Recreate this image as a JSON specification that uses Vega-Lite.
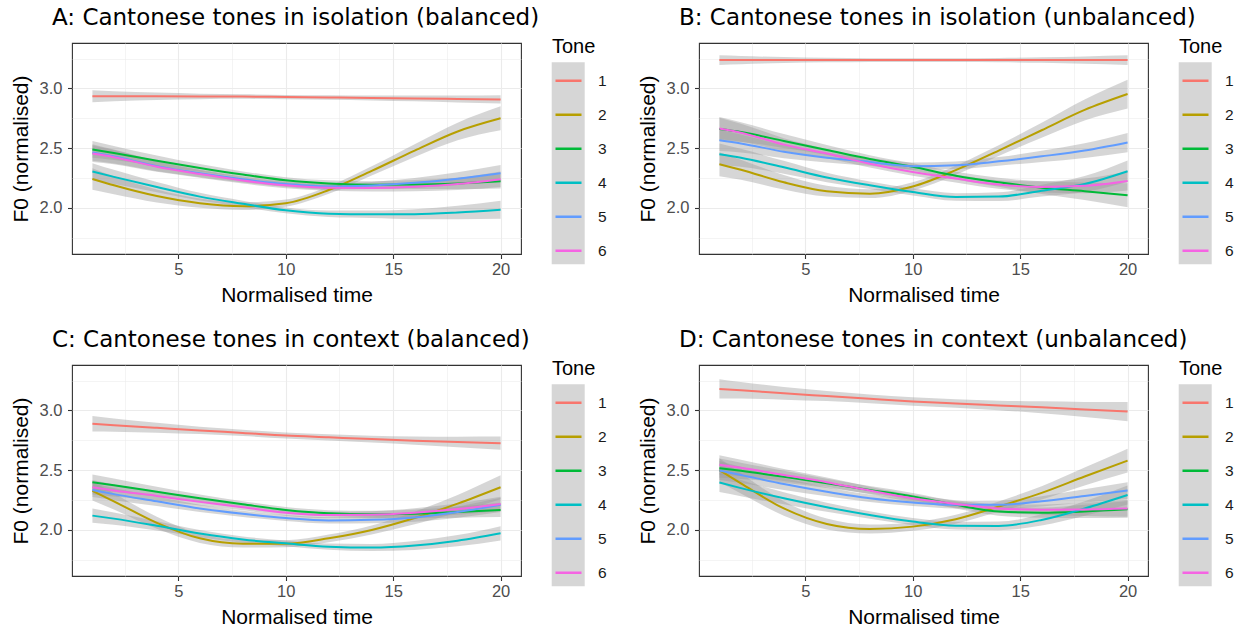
{
  "$schema": "https://vega.github.io/schema/vega-lite/v6.json",
  "background": "white",
  "padding": {"left": 9, "top": 6, "right": 5, "bottom": 5},
  "config": {
    "font": "Liberation Sans",
    "view": {"stroke": "#333333", "strokeWidth": 1.1},
    "axis": {"domain": false, "gridColor": "#ebebeb", "tickColor": "#333333", "tickSize": 4.5, "tickWidth": 1.1, "labelColor": "#4d4d4d", "labelFont": "Liberation Sans", "labelFontSize": 16.5, "titleFont": "Liberation Sans", "titleFontSize": 21, "titleFontWeight": "normal", "titleColor": "#000000", "labelPadding": 3, "labelOverlap": false},
    "axisX": {"labelExpr": "datum.value % 5 === 0 ? datum.label : ''", "gridWidth": {"condition": {"test": "datum.value % 5 !== 0", "value": 0.55}, "value": 1.1}, "tickOpacity": {"condition": {"test": "datum.value % 5 !== 0", "value": 0}, "value": 1}, "titlePadding": 6},
    "axisY": {"format": ".1f", "labelPadding": 5.5, "labelExpr": "datum.value % 0.5 === 0 ? datum.label : ''", "gridWidth": {"condition": {"test": "datum.value % 0.5 !== 0", "value": 0.55}, "value": 1.1}, "tickOpacity": {"condition": {"test": "datum.value % 0.5 !== 0", "value": 0}, "value": 1}, "titlePadding": 8},
    "title": {"font": "DejaVu Sans", "fontSize": 23, "fontWeight": "normal", "anchor": "start", "frame": "group", "color": "#000000", "dx": -20, "offset": 7},
    "legend": {"orient": "none", "legendX": 480, "legendY": -6, "clipHeight": 31.5, "titleFont": "Liberation Sans", "titleFontSize": 20, "titleFontWeight": "normal", "titleColor": "#000000", "titlePadding": 8, "labelFont": "Liberation Sans", "labelFontSize": 15.5, "labelColor": "#1a1a1a", "labelOffset": 13, "padding": 0, "symbolType": "M-0.867,0H0.867", "symbolSize": 900, "symbolStrokeWidth": 2.5, "symbolFillColor": "transparent", "symbolOffset": 0}
  },
  "datasets": {
    "A": [
      {"tone":1,"t":1,"y":2.935,"lo":2.885,"hi":2.985},{"tone":1,"t":2,"y":2.935,"lo":2.893,"hi":2.977},{"tone":1,"t":4,"y":2.934,"lo":2.903,"hi":2.965},{"tone":1,"t":6,"y":2.933,"lo":2.910,"hi":2.956},{"tone":1,"t":8,"y":2.932,"lo":2.913,"hi":2.951},{"tone":1,"t":10,"y":2.928,"lo":2.910,"hi":2.946},{"tone":1,"t":12,"y":2.924,"lo":2.905,"hi":2.943},{"tone":1,"t":14,"y":2.92,"lo":2.900,"hi":2.940},{"tone":1,"t":16,"y":2.916,"lo":2.892,"hi":2.940},{"tone":1,"t":18,"y":2.912,"lo":2.883,"hi":2.941},{"tone":1,"t":20,"y":2.908,"lo":2.873,"hi":2.943},
      {"tone":2,"t":1,"y":2.243,"lo":2.153,"hi":2.333},{"tone":2,"t":2,"y":2.19,"lo":2.115,"hi":2.265},{"tone":2,"t":4,"y":2.1,"lo":2.046,"hi":2.154},{"tone":2,"t":6,"y":2.04,"lo":2.001,"hi":2.079},{"tone":2,"t":8,"y":2.015,"lo":1.983,"hi":2.047},{"tone":2,"t":10,"y":2.04,"lo":2.010,"hi":2.070},{"tone":2,"t":12,"y":2.15,"lo":2.118,"hi":2.182},{"tone":2,"t":14,"y":2.31,"lo":2.272,"hi":2.348},{"tone":2,"t":16,"y":2.48,"lo":2.427,"hi":2.533},{"tone":2,"t":18,"y":2.64,"lo":2.567,"hi":2.713},{"tone":2,"t":20,"y":2.75,"lo":2.65,"hi":2.85},
      {"tone":3,"t":1,"y":2.49,"lo":2.42,"hi":2.56},{"tone":3,"t":2,"y":2.46,"lo":2.401,"hi":2.519},{"tone":3,"t":4,"y":2.395,"lo":2.352,"hi":2.438},{"tone":3,"t":6,"y":2.335,"lo":2.303,"hi":2.367},{"tone":3,"t":8,"y":2.28,"lo":2.254,"hi":2.306},{"tone":3,"t":10,"y":2.232,"lo":2.207,"hi":2.257},{"tone":3,"t":12,"y":2.205,"lo":2.179,"hi":2.231},{"tone":3,"t":14,"y":2.195,"lo":2.166,"hi":2.224},{"tone":3,"t":16,"y":2.196,"lo":2.159,"hi":2.233},{"tone":3,"t":18,"y":2.205,"lo":2.158,"hi":2.252},{"tone":3,"t":20,"y":2.223,"lo":2.163,"hi":2.283},
      {"tone":4,"t":1,"y":2.305,"lo":2.235,"hi":2.375},{"tone":4,"t":2,"y":2.26,"lo":2.201,"hi":2.319},{"tone":4,"t":4,"y":2.175,"lo":2.132,"hi":2.218},{"tone":4,"t":6,"y":2.095,"lo":2.063,"hi":2.127},{"tone":4,"t":8,"y":2.035,"lo":2.009,"hi":2.061},{"tone":4,"t":10,"y":1.98,"lo":1.955,"hi":2.005},{"tone":4,"t":12,"y":1.952,"lo":1.925,"hi":1.979},{"tone":4,"t":14,"y":1.947,"lo":1.916,"hi":1.978},{"tone":4,"t":16,"y":1.948,"lo":1.906,"hi":1.990},{"tone":4,"t":18,"y":1.962,"lo":1.906,"hi":2.018},{"tone":4,"t":20,"y":1.985,"lo":1.91,"hi":2.06},
      {"tone":5,"t":1,"y":2.464,"lo":2.394,"hi":2.534},{"tone":5,"t":2,"y":2.43,"lo":2.371,"hi":2.489},{"tone":5,"t":4,"y":2.35,"lo":2.307,"hi":2.393},{"tone":5,"t":6,"y":2.29,"lo":2.258,"hi":2.322},{"tone":5,"t":8,"y":2.24,"lo":2.214,"hi":2.266},{"tone":5,"t":10,"y":2.2,"lo":2.175,"hi":2.225},{"tone":5,"t":12,"y":2.18,"lo":2.154,"hi":2.206},{"tone":5,"t":14,"y":2.188,"lo":2.158,"hi":2.218},{"tone":5,"t":16,"y":2.21,"lo":2.17,"hi":2.25},{"tone":5,"t":18,"y":2.245,"lo":2.192,"hi":2.298},{"tone":5,"t":20,"y":2.29,"lo":2.22,"hi":2.36},
      {"tone":6,"t":1,"y":2.455,"lo":2.385,"hi":2.525},{"tone":6,"t":2,"y":2.425,"lo":2.366,"hi":2.484},{"tone":6,"t":4,"y":2.345,"lo":2.302,"hi":2.388},{"tone":6,"t":6,"y":2.285,"lo":2.253,"hi":2.317},{"tone":6,"t":8,"y":2.23,"lo":2.204,"hi":2.256},{"tone":6,"t":10,"y":2.19,"lo":2.165,"hi":2.215},{"tone":6,"t":12,"y":2.17,"lo":2.144,"hi":2.196},{"tone":6,"t":14,"y":2.168,"lo":2.138,"hi":2.198},{"tone":6,"t":16,"y":2.178,"lo":2.14,"hi":2.216},{"tone":6,"t":18,"y":2.2,"lo":2.15,"hi":2.25},{"tone":6,"t":20,"y":2.24,"lo":2.175,"hi":2.305}
    ],
    "B": [
      {"tone":1,"t":1,"y":3.237,"lo":3.197,"hi":3.277},{"tone":1,"t":2,"y":3.237,"lo":3.203,"hi":3.271},{"tone":1,"t":4,"y":3.237,"lo":3.212,"hi":3.262},{"tone":1,"t":6,"y":3.237,"lo":3.218,"hi":3.256},{"tone":1,"t":8,"y":3.237,"lo":3.221,"hi":3.253},{"tone":1,"t":10,"y":3.237,"lo":3.222,"hi":3.252},{"tone":1,"t":12,"y":3.237,"lo":3.221,"hi":3.253},{"tone":1,"t":14,"y":3.237,"lo":3.219,"hi":3.255},{"tone":1,"t":16,"y":3.237,"lo":3.214,"hi":3.26},{"tone":1,"t":18,"y":3.237,"lo":3.206,"hi":3.268},{"tone":1,"t":20,"y":3.237,"lo":3.197,"hi":3.277},
      {"tone":2,"t":1,"y":2.366,"lo":2.266,"hi":2.466},{"tone":2,"t":2,"y":2.32,"lo":2.236,"hi":2.404},{"tone":2,"t":4,"y":2.215,"lo":2.154,"hi":2.276},{"tone":2,"t":6,"y":2.14,"lo":2.095,"hi":2.185},{"tone":2,"t":8,"y":2.12,"lo":2.083,"hi":2.157},{"tone":2,"t":10,"y":2.18,"lo":2.145,"hi":2.215},{"tone":2,"t":12,"y":2.316,"lo":2.278,"hi":2.354},{"tone":2,"t":14,"y":2.48,"lo":2.435,"hi":2.525},{"tone":2,"t":16,"y":2.65,"lo":2.587,"hi":2.713},{"tone":2,"t":18,"y":2.82,"lo":2.732,"hi":2.908},{"tone":2,"t":20,"y":2.953,"lo":2.833,"hi":3.073},
      {"tone":3,"t":1,"y":2.66,"lo":2.56,"hi":2.76},{"tone":3,"t":2,"y":2.635,"lo":2.552,"hi":2.718},{"tone":3,"t":4,"y":2.56,"lo":2.502,"hi":2.618},{"tone":3,"t":6,"y":2.485,"lo":2.444,"hi":2.526},{"tone":3,"t":8,"y":2.41,"lo":2.378,"hi":2.442},{"tone":3,"t":10,"y":2.344,"lo":2.314,"hi":2.374},{"tone":3,"t":12,"y":2.27,"lo":2.238,"hi":2.302},{"tone":3,"t":14,"y":2.215,"lo":2.177,"hi":2.253},{"tone":3,"t":16,"y":2.17,"lo":2.117,"hi":2.223},{"tone":3,"t":18,"y":2.14,"lo":2.067,"hi":2.213},{"tone":3,"t":20,"y":2.106,"lo":2.006,"hi":2.206},
      {"tone":4,"t":1,"y":2.45,"lo":2.36,"hi":2.54},{"tone":4,"t":2,"y":2.42,"lo":2.345,"hi":2.495},{"tone":4,"t":4,"y":2.34,"lo":2.286,"hi":2.394},{"tone":4,"t":6,"y":2.255,"lo":2.216,"hi":2.294},{"tone":4,"t":8,"y":2.19,"lo":2.158,"hi":2.222},{"tone":4,"t":10,"y":2.134,"lo":2.104,"hi":2.164},{"tone":4,"t":12,"y":2.092,"lo":2.06,"hi":2.124},{"tone":4,"t":14,"y":2.095,"lo":2.058,"hi":2.132},{"tone":4,"t":16,"y":2.145,"lo":2.095,"hi":2.195},{"tone":4,"t":18,"y":2.2,"lo":2.133,"hi":2.267},{"tone":4,"t":20,"y":2.307,"lo":2.217,"hi":2.397},
      {"tone":5,"t":1,"y":2.567,"lo":2.477,"hi":2.657},{"tone":5,"t":2,"y":2.54,"lo":2.465,"hi":2.615},{"tone":5,"t":4,"y":2.47,"lo":2.416,"hi":2.524},{"tone":5,"t":6,"y":2.42,"lo":2.381,"hi":2.459},{"tone":5,"t":8,"y":2.385,"lo":2.353,"hi":2.417},{"tone":5,"t":10,"y":2.35,"lo":2.32,"hi":2.38},{"tone":5,"t":12,"y":2.357,"lo":2.325,"hi":2.389},{"tone":5,"t":14,"y":2.39,"lo":2.354,"hi":2.426},{"tone":5,"t":16,"y":2.432,"lo":2.385,"hi":2.479},{"tone":5,"t":18,"y":2.48,"lo":2.419,"hi":2.541},{"tone":5,"t":20,"y":2.547,"lo":2.467,"hi":2.627},
      {"tone":6,"t":1,"y":2.665,"lo":2.575,"hi":2.755},{"tone":6,"t":2,"y":2.63,"lo":2.555,"hi":2.705},{"tone":6,"t":4,"y":2.53,"lo":2.476,"hi":2.584},{"tone":6,"t":6,"y":2.455,"lo":2.416,"hi":2.494},{"tone":6,"t":8,"y":2.37,"lo":2.338,"hi":2.402},{"tone":6,"t":10,"y":2.30,"lo":2.27,"hi":2.33},{"tone":6,"t":12,"y":2.246,"lo":2.214,"hi":2.278},{"tone":6,"t":14,"y":2.196,"lo":2.16,"hi":2.232},{"tone":6,"t":16,"y":2.176,"lo":2.129,"hi":2.223},{"tone":6,"t":18,"y":2.185,"lo":2.124,"hi":2.246},{"tone":6,"t":20,"y":2.226,"lo":2.146,"hi":2.306}
    ],
    "C": [
      {"tone":1,"t":1,"y":2.888,"lo":2.823,"hi":2.953},{"tone":1,"t":2,"y":2.877,"lo":2.822,"hi":2.932},{"tone":1,"t":4,"y":2.855,"lo":2.814,"hi":2.896},{"tone":1,"t":6,"y":2.833,"lo":2.802,"hi":2.864},{"tone":1,"t":8,"y":2.812,"lo":2.786,"hi":2.838},{"tone":1,"t":10,"y":2.79,"lo":2.765,"hi":2.815},{"tone":1,"t":12,"y":2.775,"lo":2.749,"hi":2.801},{"tone":1,"t":14,"y":2.76,"lo":2.731,"hi":2.789},{"tone":1,"t":16,"y":2.747,"lo":2.712,"hi":2.782},{"tone":1,"t":18,"y":2.736,"lo":2.692,"hi":2.78},{"tone":1,"t":20,"y":2.726,"lo":2.671,"hi":2.781},
      {"tone":2,"t":1,"y":2.327,"lo":2.247,"hi":2.407},{"tone":2,"t":2,"y":2.24,"lo":2.172,"hi":2.308},{"tone":2,"t":4,"y":2.06,"lo":2.01,"hi":2.11},{"tone":2,"t":6,"y":1.93,"lo":1.892,"hi":1.968},{"tone":2,"t":8,"y":1.885,"lo":1.853,"hi":1.917},{"tone":2,"t":10,"y":1.885,"lo":1.855,"hi":1.915},{"tone":2,"t":12,"y":1.93,"lo":1.898,"hi":1.962},{"tone":2,"t":14,"y":2.0,"lo":1.962,"hi":2.038},{"tone":2,"t":16,"y":2.1,"lo":2.047,"hi":2.153},{"tone":2,"t":18,"y":2.22,"lo":2.147,"hi":2.293},{"tone":2,"t":20,"y":2.357,"lo":2.257,"hi":2.457},
      {"tone":3,"t":1,"y":2.4,"lo":2.335,"hi":2.465},{"tone":3,"t":2,"y":2.375,"lo":2.32,"hi":2.43},{"tone":3,"t":4,"y":2.32,"lo":2.279,"hi":2.361},{"tone":3,"t":6,"y":2.265,"lo":2.234,"hi":2.296},{"tone":3,"t":8,"y":2.215,"lo":2.189,"hi":2.241},{"tone":3,"t":10,"y":2.168,"lo":2.143,"hi":2.193},{"tone":3,"t":12,"y":2.14,"lo":2.114,"hi":2.166},{"tone":3,"t":14,"y":2.132,"lo":2.103,"hi":2.161},{"tone":3,"t":16,"y":2.135,"lo":2.098,"hi":2.172},{"tone":3,"t":18,"y":2.15,"lo":2.103,"hi":2.197},{"tone":3,"t":20,"y":2.168,"lo":2.108,"hi":2.228},
      {"tone":4,"t":1,"y":2.12,"lo":2.06,"hi":2.18},{"tone":4,"t":2,"y":2.095,"lo":2.044,"hi":2.146},{"tone":4,"t":4,"y":2.035,"lo":1.996,"hi":2.074},{"tone":4,"t":6,"y":1.97,"lo":1.94,"hi":2.0},{"tone":4,"t":8,"y":1.92,"lo":1.894,"hi":1.946},{"tone":4,"t":10,"y":1.888,"lo":1.863,"hi":1.913},{"tone":4,"t":12,"y":1.86,"lo":1.834,"hi":1.886},{"tone":4,"t":14,"y":1.853,"lo":1.824,"hi":1.882},{"tone":4,"t":16,"y":1.87,"lo":1.833,"hi":1.907},{"tone":4,"t":18,"y":1.91,"lo":1.863,"hi":1.957},{"tone":4,"t":20,"y":1.972,"lo":1.912,"hi":2.032},
      {"tone":5,"t":1,"y":2.335,"lo":2.275,"hi":2.395},{"tone":5,"t":2,"y":2.3,"lo":2.249,"hi":2.351},{"tone":5,"t":4,"y":2.24,"lo":2.201,"hi":2.279},{"tone":5,"t":6,"y":2.18,"lo":2.15,"hi":2.21},{"tone":5,"t":8,"y":2.135,"lo":2.109,"hi":2.161},{"tone":5,"t":10,"y":2.1,"lo":2.075,"hi":2.125},{"tone":5,"t":12,"y":2.08,"lo":2.054,"hi":2.106},{"tone":5,"t":14,"y":2.085,"lo":2.056,"hi":2.114},{"tone":5,"t":16,"y":2.105,"lo":2.068,"hi":2.142},{"tone":5,"t":18,"y":2.15,"lo":2.103,"hi":2.197},{"tone":5,"t":20,"y":2.21,"lo":2.15,"hi":2.27},
      {"tone":6,"t":1,"y":2.357,"lo":2.297,"hi":2.417},{"tone":6,"t":2,"y":2.33,"lo":2.279,"hi":2.381},{"tone":6,"t":4,"y":2.285,"lo":2.246,"hi":2.324},{"tone":6,"t":6,"y":2.235,"lo":2.205,"hi":2.265},{"tone":6,"t":8,"y":2.19,"lo":2.164,"hi":2.216},{"tone":6,"t":10,"y":2.145,"lo":2.12,"hi":2.17},{"tone":6,"t":12,"y":2.126,"lo":2.1,"hi":2.152},{"tone":6,"t":14,"y":2.128,"lo":2.099,"hi":2.157},{"tone":6,"t":16,"y":2.145,"lo":2.108,"hi":2.182},{"tone":6,"t":18,"y":2.175,"lo":2.128,"hi":2.222},{"tone":6,"t":20,"y":2.218,"lo":2.158,"hi":2.278}
    ],
    "D": [
      {"tone":1,"t":1,"y":3.18,"lo":3.1,"hi":3.26},{"tone":1,"t":2,"y":3.168,"lo":3.099,"hi":3.237},{"tone":1,"t":4,"y":3.143,"lo":3.09,"hi":3.196},{"tone":1,"t":6,"y":3.12,"lo":3.078,"hi":3.162},{"tone":1,"t":8,"y":3.097,"lo":3.061,"hi":3.133},{"tone":1,"t":10,"y":3.075,"lo":3.04,"hi":3.11},{"tone":1,"t":12,"y":3.058,"lo":3.022,"hi":3.094},{"tone":1,"t":14,"y":3.042,"lo":3.002,"hi":3.082},{"tone":1,"t":16,"y":3.026,"lo":2.976,"hi":3.076},{"tone":1,"t":18,"y":3.008,"lo":2.945,"hi":3.071},{"tone":1,"t":20,"y":2.99,"lo":2.91,"hi":3.07},
      {"tone":2,"t":1,"y":2.5,"lo":2.4,"hi":2.6},{"tone":2,"t":2,"y":2.39,"lo":2.306,"hi":2.474},{"tone":2,"t":4,"y":2.18,"lo":2.119,"hi":2.241},{"tone":2,"t":6,"y":2.05,"lo":2.005,"hi":2.095},{"tone":2,"t":8,"y":2.008,"lo":1.971,"hi":2.045},{"tone":2,"t":10,"y":2.028,"lo":1.993,"hi":2.063},{"tone":2,"t":12,"y":2.09,"lo":2.053,"hi":2.127},{"tone":2,"t":14,"y":2.196,"lo":2.153,"hi":2.239},{"tone":2,"t":16,"y":2.31,"lo":2.254,"hi":2.366},{"tone":2,"t":18,"y":2.447,"lo":2.372,"hi":2.522},{"tone":2,"t":20,"y":2.58,"lo":2.48,"hi":2.68},
      {"tone":3,"t":1,"y":2.517,"lo":2.437,"hi":2.597},{"tone":3,"t":2,"y":2.495,"lo":2.427,"hi":2.563},{"tone":3,"t":4,"y":2.445,"lo":2.395,"hi":2.495},{"tone":3,"t":6,"y":2.39,"lo":2.352,"hi":2.428},{"tone":3,"t":8,"y":2.335,"lo":2.303,"hi":2.367},{"tone":3,"t":10,"y":2.28,"lo":2.25,"hi":2.31},{"tone":3,"t":12,"y":2.21,"lo":2.179,"hi":2.241},{"tone":3,"t":14,"y":2.154,"lo":2.119,"hi":2.189},{"tone":3,"t":16,"y":2.145,"lo":2.102,"hi":2.188},{"tone":3,"t":18,"y":2.155,"lo":2.1,"hi":2.21},{"tone":3,"t":20,"y":2.173,"lo":2.103,"hi":2.243},
      {"tone":4,"t":1,"y":2.397,"lo":2.317,"hi":2.477},{"tone":4,"t":2,"y":2.35,"lo":2.282,"hi":2.418},{"tone":4,"t":4,"y":2.265,"lo":2.215,"hi":2.315},{"tone":4,"t":6,"y":2.19,"lo":2.152,"hi":2.228},{"tone":4,"t":8,"y":2.125,"lo":2.093,"hi":2.157},{"tone":4,"t":10,"y":2.07,"lo":2.04,"hi":2.1},{"tone":4,"t":12,"y":2.036,"lo":2.004,"hi":2.068},{"tone":4,"t":14,"y":2.034,"lo":1.998,"hi":2.07},{"tone":4,"t":16,"y":2.084,"lo":2.037,"hi":2.131},{"tone":4,"t":18,"y":2.18,"lo":2.119,"hi":2.241},{"tone":4,"t":20,"y":2.293,"lo":2.213,"hi":2.373},
      {"tone":5,"t":1,"y":2.497,"lo":2.417,"hi":2.577},{"tone":5,"t":2,"y":2.46,"lo":2.392,"hi":2.528},{"tone":5,"t":4,"y":2.385,"lo":2.335,"hi":2.435},{"tone":5,"t":6,"y":2.32,"lo":2.282,"hi":2.358},{"tone":5,"t":8,"y":2.265,"lo":2.233,"hi":2.297},{"tone":5,"t":10,"y":2.23,"lo":2.2,"hi":2.26},{"tone":5,"t":12,"y":2.21,"lo":2.179,"hi":2.241},{"tone":5,"t":14,"y":2.21,"lo":2.175,"hi":2.245},{"tone":5,"t":16,"y":2.24,"lo":2.197,"hi":2.283},{"tone":5,"t":18,"y":2.285,"lo":2.23,"hi":2.34},{"tone":5,"t":20,"y":2.33,"lo":2.26,"hi":2.4},
      {"tone":6,"t":1,"y":2.545,"lo":2.465,"hi":2.625},{"tone":6,"t":2,"y":2.52,"lo":2.452,"hi":2.588},{"tone":6,"t":4,"y":2.46,"lo":2.41,"hi":2.51},{"tone":6,"t":6,"y":2.4,"lo":2.362,"hi":2.438},{"tone":6,"t":8,"y":2.33,"lo":2.298,"hi":2.362},{"tone":6,"t":10,"y":2.265,"lo":2.235,"hi":2.295},{"tone":6,"t":12,"y":2.218,"lo":2.187,"hi":2.249},{"tone":6,"t":14,"y":2.18,"lo":2.145,"hi":2.215},{"tone":6,"t":16,"y":2.17,"lo":2.127,"hi":2.213},{"tone":6,"t":18,"y":2.172,"lo":2.117,"hi":2.227},{"tone":6,"t":20,"y":2.18,"lo":2.11,"hi":2.25}
    ]
  },
  "resolve": {"scale": {"stroke": "independent", "fill": "independent"}, "legend": {"stroke": "independent", "fill": "independent"}},
  "spacing": 22,
  "vconcat": [
    {
      "hconcat": [
        {
          "title": "A: Cantonese tones in isolation (balanced)",
          "width": 449, "height": 211,
          "data": {"name": "A"},
          "encoding": {"x": {"field": "t", "type": "quantitative", "title": "Normalised time", "scale": {"domain": [0.05, 20.95], "nice": false, "zero": false}, "axis": {"values": [2.5, 5, 7.5, 10, 12.5, 15, 17.5, 20]}}},
          "layer": [
            {"mark": {"type": "area", "opacity": 0.4, "interpolate": "monotone"},
             "encoding": {"y": {"field": "lo", "type": "quantitative", "title": "F0 (normalised)", "scale": {"domain": [1.615, 3.38], "nice": false, "zero": false}, "axis": {"values": [1.75, 2, 2.25, 2.5, 2.75, 3, 3.25]}}, "y2": {"field": "hi"},
               "fill": {"field": "tone", "type": "nominal", "scale": {"domain": [1, 2, 3, 4, 5, 6], "range": ["#999999", "#999999", "#999999", "#999999", "#999999", "#999999"]}, "legend": {"title": null, "legendX": 479.7, "legendY": 19.3, "fillColor": "#d6d6d6", "symbolType": "square", "symbolSize": 992, "symbolStrokeWidth": 0, "symbolOpacity": 0, "labelFontSize": 1, "labelOpacity": 0, "labelOffset": 0, "zindex": 0}}}},
            {"mark": {"type": "line", "strokeWidth": 2, "interpolate": "monotone"},
             "encoding": {"y": {"field": "y", "type": "quantitative", "title": "F0 (normalised)", "axis": {"values": [1.75, 2, 2.25, 2.5, 2.75, 3, 3.25]}}, "stroke": {"field": "tone", "type": "nominal", "title": "Tone", "scale": {"range": ["#F8766D", "#B79F00", "#00BA38", "#00BFC4", "#619CFF", "#F564E3"]}, "legend": {"zindex": 1}}}}
          ]
        },
        {
          "title": "B: Cantonese tones in isolation (unbalanced)",
          "width": 449, "height": 211,
          "data": {"name": "B"},
          "encoding": {"x": {"field": "t", "type": "quantitative", "title": "Normalised time", "scale": {"domain": [0.05, 20.95], "nice": false, "zero": false}, "axis": {"values": [2.5, 5, 7.5, 10, 12.5, 15, 17.5, 20]}}},
          "layer": [
            {"mark": {"type": "area", "opacity": 0.4, "interpolate": "monotone"},
             "encoding": {"y": {"field": "lo", "type": "quantitative", "title": "F0 (normalised)", "scale": {"domain": [1.615, 3.38], "nice": false, "zero": false}, "axis": {"values": [1.75, 2, 2.25, 2.5, 2.75, 3, 3.25]}}, "y2": {"field": "hi"},
               "fill": {"field": "tone", "type": "nominal", "scale": {"domain": [1, 2, 3, 4, 5, 6], "range": ["#999999", "#999999", "#999999", "#999999", "#999999", "#999999"]}, "legend": {"title": null, "legendX": 479.7, "legendY": 19.3, "fillColor": "#d6d6d6", "symbolType": "square", "symbolSize": 992, "symbolStrokeWidth": 0, "symbolOpacity": 0, "labelFontSize": 1, "labelOpacity": 0, "labelOffset": 0, "zindex": 0}}}},
            {"mark": {"type": "line", "strokeWidth": 2, "interpolate": "monotone"},
             "encoding": {"y": {"field": "y", "type": "quantitative", "title": "F0 (normalised)", "axis": {"values": [1.75, 2, 2.25, 2.5, 2.75, 3, 3.25]}}, "stroke": {"field": "tone", "type": "nominal", "title": "Tone", "scale": {"range": ["#F8766D", "#B79F00", "#00BA38", "#00BFC4", "#619CFF", "#F564E3"]}, "legend": {"zindex": 1}}}}
          ]
        }
      ],
      "spacing": 28,
      "resolve": {"scale": {"stroke": "independent", "fill": "independent"}, "legend": {"stroke": "independent", "fill": "independent"}}
    },
    {
      "hconcat": [
        {
          "title": "C: Cantonese tones in context (balanced)",
          "width": 449, "height": 211,
          "data": {"name": "C"},
          "encoding": {"x": {"field": "t", "type": "quantitative", "title": "Normalised time", "scale": {"domain": [0.05, 20.95], "nice": false, "zero": false}, "axis": {"values": [2.5, 5, 7.5, 10, 12.5, 15, 17.5, 20]}}},
          "layer": [
            {"mark": {"type": "area", "opacity": 0.4, "interpolate": "monotone"},
             "encoding": {"y": {"field": "lo", "type": "quantitative", "title": "F0 (normalised)", "scale": {"domain": [1.615, 3.38], "nice": false, "zero": false}, "axis": {"values": [1.75, 2, 2.25, 2.5, 2.75, 3, 3.25]}}, "y2": {"field": "hi"},
               "fill": {"field": "tone", "type": "nominal", "scale": {"domain": [1, 2, 3, 4, 5, 6], "range": ["#999999", "#999999", "#999999", "#999999", "#999999", "#999999"]}, "legend": {"title": null, "legendX": 479.7, "legendY": 19.3, "fillColor": "#d6d6d6", "symbolType": "square", "symbolSize": 992, "symbolStrokeWidth": 0, "symbolOpacity": 0, "labelFontSize": 1, "labelOpacity": 0, "labelOffset": 0, "zindex": 0}}}},
            {"mark": {"type": "line", "strokeWidth": 2, "interpolate": "monotone"},
             "encoding": {"y": {"field": "y", "type": "quantitative", "title": "F0 (normalised)", "axis": {"values": [1.75, 2, 2.25, 2.5, 2.75, 3, 3.25]}}, "stroke": {"field": "tone", "type": "nominal", "title": "Tone", "scale": {"range": ["#F8766D", "#B79F00", "#00BA38", "#00BFC4", "#619CFF", "#F564E3"]}, "legend": {"zindex": 1}}}}
          ]
        },
        {
          "title": "D: Cantonese tones in context (unbalanced)",
          "width": 449, "height": 211,
          "data": {"name": "D"},
          "encoding": {"x": {"field": "t", "type": "quantitative", "title": "Normalised time", "scale": {"domain": [0.05, 20.95], "nice": false, "zero": false}, "axis": {"values": [2.5, 5, 7.5, 10, 12.5, 15, 17.5, 20]}}},
          "layer": [
            {"mark": {"type": "area", "opacity": 0.4, "interpolate": "monotone"},
             "encoding": {"y": {"field": "lo", "type": "quantitative", "title": "F0 (normalised)", "scale": {"domain": [1.615, 3.38], "nice": false, "zero": false}, "axis": {"values": [1.75, 2, 2.25, 2.5, 2.75, 3, 3.25]}}, "y2": {"field": "hi"},
               "fill": {"field": "tone", "type": "nominal", "scale": {"domain": [1, 2, 3, 4, 5, 6], "range": ["#999999", "#999999", "#999999", "#999999", "#999999", "#999999"]}, "legend": {"title": null, "legendX": 479.7, "legendY": 19.3, "fillColor": "#d6d6d6", "symbolType": "square", "symbolSize": 992, "symbolStrokeWidth": 0, "symbolOpacity": 0, "labelFontSize": 1, "labelOpacity": 0, "labelOffset": 0, "zindex": 0}}}},
            {"mark": {"type": "line", "strokeWidth": 2, "interpolate": "monotone"},
             "encoding": {"y": {"field": "y", "type": "quantitative", "title": "F0 (normalised)", "axis": {"values": [1.75, 2, 2.25, 2.5, 2.75, 3, 3.25]}}, "stroke": {"field": "tone", "type": "nominal", "title": "Tone", "scale": {"range": ["#F8766D", "#B79F00", "#00BA38", "#00BFC4", "#619CFF", "#F564E3"]}, "legend": {"zindex": 1}}}}
          ]
        }
      ],
      "spacing": 28,
      "resolve": {"scale": {"stroke": "independent", "fill": "independent"}, "legend": {"stroke": "independent", "fill": "independent"}}
    }
  ]
}
